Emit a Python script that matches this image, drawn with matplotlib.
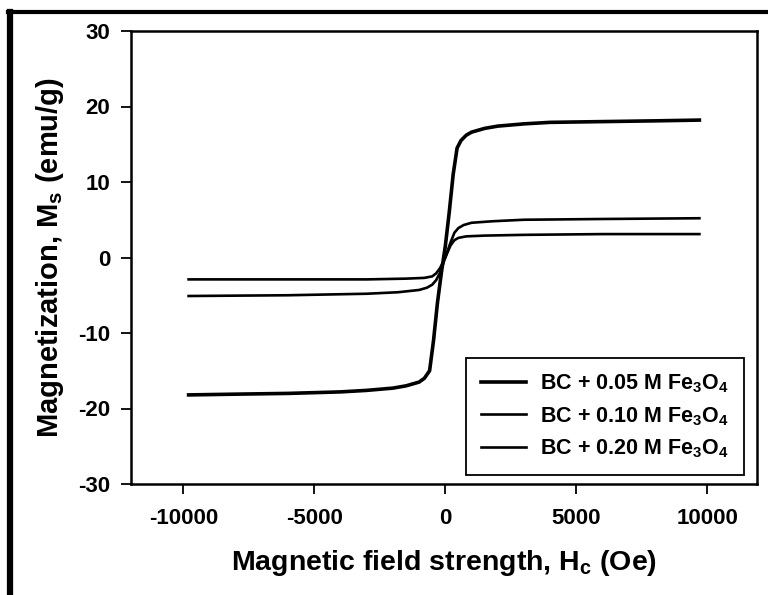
import matplotlib
matplotlib.use("Agg")
import matplotlib.pyplot as plt
from matplotlib.lines import Line2D

plt.rcParams['font.family'] = ['Liberation Sans', 'DejaVu Sans']
plt.rcParams['font.weight'] = 'bold'
plt.rcParams['axes.unicode_minus'] = False
plt.rcParams['mathtext.fontset'] = 'custom'
plt.rcParams['mathtext.rm'] = 'Liberation Sans:bold'
plt.rcParams['mathtext.it'] = 'Liberation Sans:bold'
plt.rcParams['mathtext.bf'] = 'Liberation Sans:bold'

# M-H curves, field in Oe, magnetization in emu/g
H_005 = [-9800, -8000, -6000, -4000, -3000, -2000, -1500, -1000, -800, -600, -450,
         -300, -150, 0, 150, 300, 450, 600, 800, 1000, 1500, 2000, 3000, 4000,
         6000, 8000, 9700]
M_005 = [-18.2, -18.1, -18.0, -17.8, -17.6, -17.3, -17.0, -16.5, -16.0, -15.0, -11.0,
         -6.0, -2.0, 1.5, 6.0, 11.0, 14.5, 15.5, 16.2, 16.6, 17.1, 17.4, 17.7, 17.9,
         18.0, 18.1, 18.2]

H_010 = [-9800, -6000, -3000, -1800, -1000, -700, -500, -350, -200, 0, 200, 350,
         500, 700, 1000, 1800, 3000, 6000, 9700]
M_010 = [-5.1, -5.0, -4.8, -4.6, -4.3, -4.0, -3.6, -3.0, -2.0, 0.0, 2.0, 3.3,
         3.9, 4.3, 4.6, 4.8, 5.0, 5.1, 5.2]

H_020 = [-9800, -6000, -3000, -1500, -800, -500, -350, -200, 0, 200, 350, 500,
         800, 1500, 3000, 6000, 9700]
M_020 = [-2.9, -2.9, -2.9, -2.8, -2.7, -2.5, -2.1, -1.4, 0.0, 1.6, 2.3, 2.6,
         2.8, 2.9, 3.0, 3.1, 3.1]

labels = [r"BC + 0.05 M Fe$_{3}$O$_{4}$",
          r"BC + 0.10 M Fe$_{3}$O$_{4}$",
          r"BC + 0.20 M Fe$_{3}$O$_{4}$"]
xticks = [-10000, -5000, 0, 5000, 10000]
yticks = [-30, -20, -10, 0, 10, 20, 30]

fig = plt.figure(figsize=(7.68, 5.95), dpi=100)
ax = fig.add_axes([131 / 768, 1 - 484 / 595, 626 / 768, 453 / 595])

ax.plot(H_005, M_005, color='black', lw=2.6, label=labels[0])
ax.plot(H_010, M_010, color='black', lw=1.9, label=labels[1])
ax.plot(H_020, M_020, color='black', lw=1.9, label=labels[2])

ax.set_xlim(-12000, 11900)
ax.set_ylim(-30, 30)
ax.set_xticks(xticks)
ax.set_yticks(yticks)
ax.tick_params(direction='out', length=7, width=1.3, labelsize=16)
ax.tick_params(axis='x', pad=10)
ax.tick_params(axis='y', pad=8)
for s in ax.spines.values():
    s.set_linewidth(1.8)

ax.set_xlabel(r"Magnetic field strength, H$_{\rm c}$ (Oe)", fontsize=20.5,
              fontweight='bold', labelpad=14)
ax.set_ylabel(r"Magnetization, M$_{\rm s}$ (emu/g)", fontsize=21,
              fontweight='bold', labelpad=9)

leg = ax.legend(loc='lower right', bbox_to_anchor=(0.979, 0.02),
                borderaxespad=0, fancybox=False, framealpha=1,
                edgecolor='black', fontsize=15.5, handlelength=2.1,
                labelspacing=0.45, borderpad=0.7, handletextpad=0.65)
leg.get_frame().set_linewidth(1.3)

# scanned page frame on the left and top
fig.add_artist(Line2D([10 / 768, 10 / 768], [0, 1 - 12 / 595],
                      transform=fig.transFigure, color='black', lw=4.5))
fig.add_artist(Line2D([8 / 768, 1], [1 - 12 / 595, 1 - 12 / 595],
                      transform=fig.transFigure, color='black', lw=3))

fig.savefig("out.png", dpi=100)
